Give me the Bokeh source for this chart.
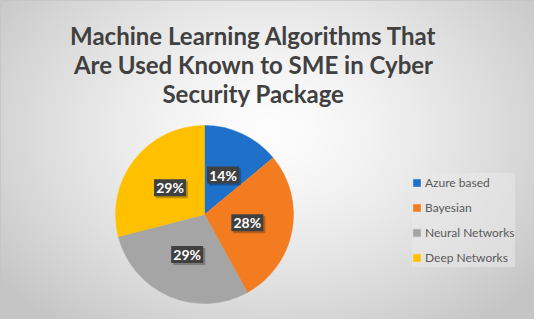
import numpy as np
from bokeh.plotting import figure
from bokeh.models import ColumnDataSource, Legend, LegendItem, Range1d
from bokeh.core.properties import value
from bokeh.embed import file_html
from bokeh.resources import INLINE

# ---- data ----
categories = ["Azure based", "Bayesian", "Neural Networks", "Deep Networks"]
percents = [14, 28, 29, 29]
colors = ["#1F70C8", "#F47C20", "#A5A5A5", "#FFC000"]
title_lines = ["Machine Learning Algorithms That",
               "Are Used Known to SME in Cyber",
               "Security Package"]

W, H = 534, 319
p = figure(width=W, height=H, output_backend="svg", toolbar_location=None,
           x_range=Range1d(0, W), y_range=Range1d(0, H), min_border=0,
           x_axis_type=None, y_axis_type=None)
p.grid.visible = False
p.outline_line_color = "#c4c4c4"
p.background_fill_color = "#e2e2e2"
p.border_fill_color = "white"

# background radial gradient
yy, xx = np.mgrid[0:H, 0:W]
cx, cy = 267, 130  # screen coords (y from top)
d = np.sqrt(((xx - cx) / 340.0) ** 2 + ((yy - cy) / 250.0) ** 2)
d = np.clip(d, 0, 1)
g = (253 - 56 * d ** 1.4).astype(np.uint32)
img = (255 << 24) | (g << 16) | (g << 8) | g
img = img[::-1].copy()
p.image_rgba(image=[img.view(np.uint32)], x=0, y=0, dw=W, dh=H)

# pie
cxp, cyp, r = 204, 105, 89
vals = np.array(percents, dtype=float)
frac = vals / vals.sum()
cum_end = np.cumsum(frac)
cum_start = cum_end - frac
start = np.pi / 2 - cum_start * 2 * np.pi
end = np.pi / 2 - cum_end * 2 * np.pi
mid = (cum_start + cum_end) / 2 * 2 * np.pi
lx = cxp + 0.49 * r * np.sin(mid)
ly = cyp + 0.49 * r * np.cos(mid)

src = ColumnDataSource(dict(cat=categories, start=start, end=end, color=colors,
                            lx=lx, ly=ly,
                            lab=[f"{v}%" for v in percents]))
wr = p.wedge(x=cxp, y=cyp, radius=r, start_angle="start", end_angle="end",
             direction="clock", fill_color="color", line_color="color",
             line_width=0.5, source=src)

# data labels
shadow = ColumnDataSource(dict(x=lx + 2, y=ly - 2))
p.rect(x="x", y="y", width=32, height=17, source=shadow,
       fill_color="black", fill_alpha=0.25, line_color=None)
p.rect(x="lx", y="ly", width=32, height=17, source=src,
       fill_color="#404040", line_color=None)
p.text(x="lx", y="ly", text="lab", source=src, text_color="white",
       text_font=value("Lato"), text_font_style="bold",
       text_font_size="14px", text_align="center", text_baseline="middle")

# title
tsrc = ColumnDataSource(dict(x=[253] * len(title_lines),
                             y=[284 - 29 * i for i in range(len(title_lines))],
                             t=title_lines))
p.text(x="x", y="y", text="t", source=tsrc, text_color="#404040",
       text_font=value("Lato"), text_font_style="bold",
       text_font_size="24px", text_align="center",
       text_baseline="alphabetic")

# legend
items = [LegendItem(label=c, renderers=[wr], index=i)
         for i, c in enumerate(categories)]
legend = Legend(items=items, location=(412, 52))
legend.glyph_width = 9
legend.glyph_height = 9
legend.label_text_font = "Lato"
legend.label_text_font_size = "12px"
legend.label_text_color = "#595959"
legend.label_standoff = 4
legend.label_height = 19
legend.spacing = 6
legend.padding = 6
legend.margin = 0
legend.background_fill_color = "#eaeaea"
legend.background_fill_alpha = 0.55
legend.border_line_color = None
p.add_layout(legend)

open("out.html", "w").write(file_html(p, INLINE))
